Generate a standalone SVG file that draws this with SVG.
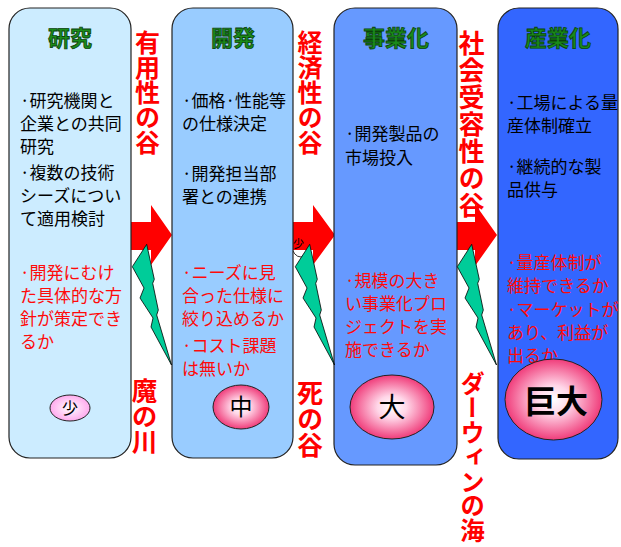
<svg xmlns="http://www.w3.org/2000/svg" width="621" height="547" viewBox="0 0 621 547">
<style>
text{font-family:"Noto Sans CJK JP","Noto Sans CJK SC",sans-serif}
.box{stroke:#222;stroke-width:1.2}
.ttl{font-size:22px;font-weight:bold;fill:#1a8c1a;stroke:#0a420a;stroke-width:0.8;text-anchor:middle}
.b{font-size:17px;fill:#000}
.r{font-size:17px;fill:#ff0a0a}
.v{font-weight:bold;fill:#ff0000;writing-mode:vertical-rl}
.arr{fill:#ff0000}
.bolt{fill:#00cc99;stroke:#000;stroke-width:0.8;stroke-linejoin:miter}
.ell{stroke:#222;stroke-width:1}
.et{fill:#000;text-anchor:middle}
</style>
<defs>
<radialGradient id="pk" cx="50%" cy="50%" r="50%">
<stop offset="0" stop-color="#ffffff"/>
<stop offset="0.35" stop-color="#ffd6e8"/>
<stop offset="1" stop-color="#f03c7a"/>
</radialGradient>
<radialGradient id="lp" cx="50%" cy="50%" r="50%">
<stop offset="0" stop-color="#ffffff"/>
<stop offset="1" stop-color="#ffaaee"/>
</radialGradient>
<path id="boltShape" d="M146.7,244.3 L132.3,266.7 L144,288 L140,298 L153,318 L151,327 L171.5,365 L156.7,315 L158.3,310 L152.7,283.3 L154.3,279.3 Z"/>
</defs>

<g id="connectors">
<ellipse cx="301" cy="246" rx="9" ry="11" fill="#fff" stroke="#000" stroke-width="0.8"/>
<polygon class="arr" points="126,222 151,222 151,205 172,235 151,265 151,250 126,250"/>
<polygon class="arr" points="288,222 313,222 313,205 335,235 313,265 313,250 288,250"/>
<polygon class="arr" points="452,222 475,222 475,204 497,235 475,266 475,250 452,250"/>
</g>

<g id="stage-research">
<rect class="box" x="9" y="8" width="122" height="450" rx="21" fill="#ccecff"/>
<text class="ttl" x="70" y="46">研究</text>
<text class="b" x="20" y="106.5">·研究機関と</text>
<text class="b" x="20" y="129.5">企業との共同</text>
<text class="b" x="20" y="152.5">研究</text>
<text class="b" x="20" y="178.5">·複数の技術</text>
<text class="b" x="20" y="201.5">シーズについ</text>
<text class="b" x="20" y="224.5">て適用検討</text>
<text class="r" x="20" y="278.5">·開発にむけ</text>
<text class="r" x="20" y="301.5">た具体的な方</text>
<text class="r" x="20" y="324.5">針が策定でき</text>
<text class="r" x="20" y="347.5">るか</text>
<ellipse class="ell" cx="70" cy="408" rx="20" ry="13" fill="url(#lp)"/>
<text class="et" x="70" y="414" font-size="16">少</text>
</g>

<g id="stage-development">
<rect class="box" x="172" y="8" width="121" height="450" rx="21" fill="#99ccff"/>
<text class="ttl" x="233" y="46">開発</text>
<text class="b" x="182" y="106.5">·価格·性能等</text>
<text class="b" x="182" y="129.5">の仕様決定</text>
<text class="b" x="182" y="179.5">·開発担当部</text>
<text class="b" x="182" y="202.5">署との連携</text>
<text class="r" x="182" y="278.5">·ニーズに見</text>
<text class="r" x="182" y="301.5">合った仕様に</text>
<text class="r" x="182" y="324.5">絞り込めるか</text>
<text class="r" x="182" y="351.5">·コスト課題</text>
<text class="r" x="182" y="374.5">は無いか</text>
<ellipse class="ell" cx="241" cy="407" rx="28" ry="22" fill="url(#pk)"/>
<text class="et" x="241" y="415" font-size="23">中</text>
</g>

<g id="stage-commercialization">
<rect class="box" x="334" y="8" width="123" height="457" rx="21" fill="#6699ff"/>
<text class="ttl" x="396" y="46">事業化</text>
<text class="b" x="345" y="139.5">·開発製品の</text>
<text class="b" x="345" y="163.5">市場投入</text>
<text class="r" x="345" y="286.5">·規模の大き</text>
<text class="r" x="345" y="309.5">い事業化プロ</text>
<text class="r" x="345" y="332.5">ジェクトを実</text>
<text class="r" x="345" y="355.5">施できるか</text>
<ellipse class="ell" cx="392" cy="407" rx="42" ry="32" fill="url(#pk)"/>
<text class="et" x="392" y="417" font-size="27">大</text>
</g>

<g id="stage-industrialization">
<rect class="box" x="498" y="8" width="120" height="451" rx="21" fill="#3366ff"/>
<text class="ttl" x="558" y="46">産業化</text>
<text class="b" x="507" y="108.5">·工場による量</text>
<text class="b" x="507" y="131.5">産体制確立</text>
<text class="b" x="507" y="172.5">·継続的な製</text>
<text class="b" x="507" y="195.5">品供与</text>
<text class="r" x="507" y="268.5">·量産体制が</text>
<text class="r" x="507" y="291.5">維持できるか</text>
<text class="r" x="507" y="315.5">·マーケットが</text>
<text class="r" x="507" y="338.5">あり、利益が</text>
<text class="r" x="507" y="361.5">出るか</text>
<ellipse class="ell" cx="553.5" cy="399.5" rx="48.5" ry="40.5" fill="url(#pk)"/>
<text class="et" x="556" y="413" font-size="32" font-weight="bold">巨大</text>
</g>

<g id="barriers">
<text x="298.5" y="248" font-size="11" fill="#000" text-anchor="middle">少</text>
<use href="#boltShape" class="bolt"/>
<use href="#boltShape" class="bolt" x="163"/>
<use href="#boltShape" class="bolt" x="325"/>
<text class="v" x="147.5" y="30" font-size="25">有用性の谷</text>
<text class="v" x="144.5" y="378" font-size="25.5">魔の川</text>
<text class="v" x="310" y="30" font-size="25">経済性の谷</text>
<text class="v" x="310" y="380" font-size="26">死の谷</text>
<text class="v" x="471.5" y="30" font-size="26" letter-spacing="1">社会受容性の谷</text>
<text class="v" x="472.5" y="371" font-size="24.5">ダーウィンの海</text>
</g>
</svg>
